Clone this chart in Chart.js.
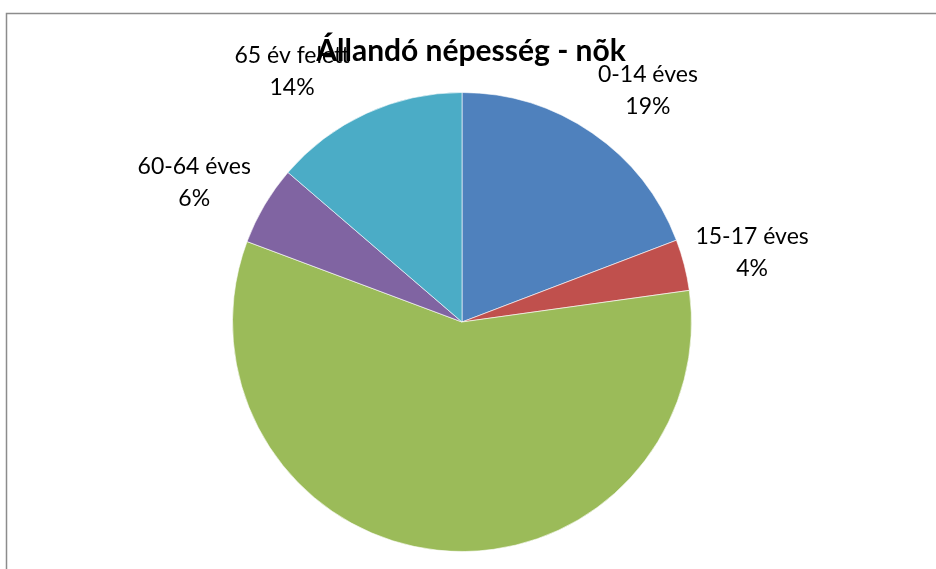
<!DOCTYPE html>
<html>
<head>
<meta charset="utf-8">
<script src="https://cdn.jsdelivr.net/npm/chart.js@4/dist/chart.umd.min.js"></script>
<style>
  html, body { margin: 0; padding: 0; background: #fff; }
  #wrap { width: 936px; height: 569px; position: relative; }
</style>
</head>
<body>
<div id="wrap"><canvas id="myChart" width="936" height="569"></canvas></div>
<script>
const title = "Állandó népesség - nõk";
const categories = ["0-14 éves", "15-17 éves", "18-59 éves", "60-64 éves", "65 év felett"];
const shares = [19.2, 3.6, 57.9, 5.6, 13.7];
const colors = ["#4F81BD", "#C0504D", "#9BBB59", "#8064A2", "#4BACC6"];

const FONT = "Lato, 'Open Sans', sans-serif";
// small nudges so the labels sit where the original layout put them
const labelNudge = [[16, 15], [0, 5], [10, -14], [-10, 13], [-45, 22]];

const frame = {
  id: "frame",
  beforeDraw(chart) {
    const ctx = chart.ctx;
    ctx.save();
    ctx.strokeStyle = "#8c8c8c";
    ctx.lineWidth = 1.5;
    ctx.beginPath();
    ctx.moveTo(6.5, chart.height + 5);
    ctx.lineTo(6.5, 13.5);
    ctx.lineTo(chart.width + 5, 13.5);
    ctx.stroke();
    ctx.restore();
  },
};

const outsideLabels = {
  id: "outsideLabels",
  afterDraw(chart) {
    const ctx = chart.ctx;
    const meta = chart.getDatasetMeta(0);
    const total = shares.reduce((a, b) => a + b, 0);
    ctx.save();
    ctx.fillStyle = "#000";
    ctx.textAlign = "center";
    ctx.textBaseline = "middle";
    ctx.font = "23px " + FONT;
    meta.data.forEach((arc, i) => {
      const mid = (arc.startAngle + arc.endAngle) / 2;
      const dist = arc.outerRadius + 70;
      const x = arc.x + Math.cos(mid) * dist + labelNudge[i][0];
      const y = arc.y + Math.sin(mid) * dist + labelNudge[i][1];
      const pct = Math.round((shares[i] / total) * 100) + "%";
      ctx.fillText(categories[i], x, y - 16);
      ctx.fillText(pct, x, y + 16);
    });
    ctx.font = "bold 30px " + FONT;
    ctx.fillText(title, 471, 51);
    ctx.restore();
  },
};

new Chart(document.getElementById("myChart"), {
  type: "pie",
  data: {
    labels: categories,
    datasets: [
      {
        data: shares,
        backgroundColor: colors,
        borderColor: "rgba(255,255,255,0.6)",
        borderWidth: 1,
      },
    ],
  },
  options: {
    responsive: false,
    animation: false,
    layout: { padding: { top: 92, bottom: 17, left: 232, right: 244 } },
    plugins: {
      legend: { display: false },
      tooltip: { enabled: false },
    },
  },
  plugins: [frame, outsideLabels],
});
</script>
</body>
</html>
